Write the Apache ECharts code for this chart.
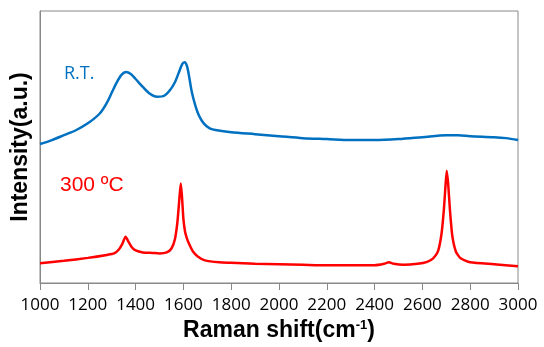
<!DOCTYPE html>
<html>
<head>
<meta charset="utf-8">
<script src="https://cdn.jsdelivr.net/npm/echarts@6/dist/echarts.min.js"></script>
<style>html,body{margin:0;padding:0;background:#fff;}#chart{width:544px;height:347px;}</style>
</head>
<body>
<div id="chart"></div>
<script>
// Room temperature (R.T.) spectrum
const rtShift = [1000,1050,1100,1150,1200,1250,1280,1300,1320,1340,1360,1380,1400,1430,1460,1490,1520,1545,1565,1580,1595,1605,1615,1625,1635,1650,1665,1685,1710,1740,1800,1900,2000,2100,2200,2300,2400,2500,2600,2700,2750,2800,2900,2950,3000];
const rtIntensity = [141,145,150,155,162,172,183,193,203,211,214,212,207,199,192,189,190,196,204,213,222,224,220,208,194,180,170,162,157,155,153,151,149,147,146,145,145,146,148,150,150,149,148,147,145];
// 300 °C spectrum
const htShift = [1000,1100,1200,1280,1310,1330,1345,1358,1370,1385,1400,1430,1470,1500,1530,1550,1565,1575,1583,1589,1594,1600,1607,1615,1625,1640,1660,1690,1750,1800,1900,2000,2100,2200,2300,2400,2440,2460,2480,2520,2580,2620,2645,2665,2680,2690,2697,2702,2708,2715,2725,2740,2760,2800,2900,3000];
const htIntensity = [20,22.5,25.5,28.5,30,34,40,47,42,36,33,31,30.5,30,31,35,45,62,85,101,88,65,52,45,39,32,27,23,21,20.5,19.5,19,18.5,18,18,18,19.5,21,19.5,18.5,19.5,21.5,25,32,50,75,100,114,100,75,48,32,25,21,19,17];
const xMin = 1000, xMax = 3000, xStep = 200;
const seriesNames = ['R.T.', '300 ºC'];

const zip = (a, b) => a.map((v, i) => [v, b[i]]);
const chart = echarts.init(document.getElementById('chart'), null, {renderer: 'canvas'});
chart.setOption({
  animation: false,
  backgroundColor: '#fff',
  grid: {left: 40, right: 26, top: 11, bottom: 60, show: true, borderColor: '#888', borderWidth: 1},
  xAxis: {
    type: 'value', min: xMin, max: xMax, interval: xStep,
    axisLine: {show: true, lineStyle: {color: '#888', width: 1}},
    axisTick: {show: true, inside: false, length: 7, lineStyle: {color: '#888'}},
    axisLabel: {color: '#000', fontFamily: 'Open Sans', fontSize: 17, margin: 14, formatter: v => String(v)},
    splitLine: {show: false},
    name: '{a|Raman shift(cm}{b|-1}{a|)}',
    nameLocation: 'middle', nameGap: 36,
    nameTextStyle: {
      rich: {
        a: {fontFamily: 'Liberation Sans', fontWeight: 'bold', fontSize: 23, color: '#000'},
        b: {fontFamily: 'Liberation Sans', fontWeight: 'bold', fontSize: 13, color: '#000', verticalAlign: 'top'}
      }
    }
  },
  yAxis: {
    type: 'value', min: 0, max: 276,
    axisLine: {show: true, lineStyle: {color: '#888'}},
    axisTick: {show: false}, axisLabel: {show: false}, splitLine: {show: false},
    name: 'Intensity(a.u.)', nameLocation: 'middle', nameGap: 8,
    nameTextStyle: {fontFamily: 'Liberation Sans', fontWeight: 'bold', fontSize: 23, color: '#000'}
  },
  series: [
    {name: seriesNames[0], type: 'line', data: zip(rtShift, rtIntensity), showSymbol: false, smooth: 0.3,
     lineStyle: {color: '#0070C0', width: 2.5}, itemStyle: {color: '#0070C0'}},
    {name: seriesNames[1], type: 'line', data: zip(htShift, htIntensity), showSymbol: false, smooth: 0.2,
     lineStyle: {color: '#FF0000', width: 2.5}, itemStyle: {color: '#FF0000'}}
  ],
  graphic: [
    {type: 'text', left: 64, top: 65, style: {text: seriesNames[0], fill: '#0070C0', font: '18px "Open Sans"'}},
    {type: 'text', left: 60, top: 175, style: {text: seriesNames[1], fill: '#FF0000', font: '21px "Liberation Sans"'}}
  ]
});
</script>
</body>
</html>
